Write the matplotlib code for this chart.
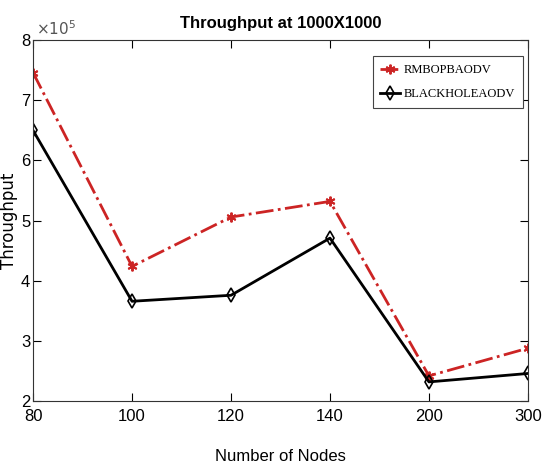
import matplotlib
matplotlib.use('Agg')
import matplotlib.pyplot as plt
import numpy as np

# data
nodes = ['80', '100', '120', '140', '200', '300']
rmbop = [7.46e5, 4.24e5, 5.06e5, 5.32e5, 2.42e5, 2.88e5]
blackhole = [6.50e5, 3.66e5, 3.76e5, 4.71e5, 2.32e5, 2.46e5]

sans = ['Liberation Sans', 'DejaVu Sans']
pos = np.arange(len(nodes))

fig = plt.figure(figsize=(5.42, 4.67), dpi=100)
ax = fig.add_axes([0.061, 0.141, 0.913, 0.773])

ax.plot(pos, np.array(rmbop) / 1e5, color='#cc2424', linestyle='-.', linewidth=2,
        marker=(6, 2, 0), markersize=7, markeredgewidth=1.4, label='RMBOPBAODV')
ax.plot(pos, np.array(blackhole) / 1e5, color='black', linestyle='-', linewidth=2,
        marker='d', markersize=7, markerfacecolor='none', markeredgewidth=1.2,
        label='BLACKHOLEAODV')

ax.set_xlim(0, len(nodes) - 1)
ax.set_ylim(2, 8)
ax.set_xticks(pos)
ax.set_xticklabels(nodes, family=sans, fontsize=12)
ax.set_yticks([2, 3, 4, 5, 6, 7, 8])
ax.set_yticklabels(['2', '3', '4', '5', '6', '7', '8'], family=sans, fontsize=12)
ax.tick_params(direction='in', top=True, right=True, length=6, width=0.8)
ax.tick_params(axis='y', pad=2)
ax.tick_params(axis='x', pad=6)
for s in ax.spines.values():
    s.set_linewidth(0.8)
    s.set_color('#333333')

ax.text(0.005, 1.005, r'$\times10^5$', transform=ax.transAxes, fontsize=11,
        color='#555555', ha='left', va='bottom')
ax.set_title('Throughput at 1000X1000', family=sans, fontsize=12,
             fontweight='bold', pad=9)
ax.set_xlabel('Number of Nodes', family=sans, fontsize=12, labelpad=18)
ax.set_ylabel('Throughput', family='DejaVu Sans', fontsize=12)
ax.yaxis.set_label_coords(-0.031, 0.5)

leg = ax.legend(loc='upper right', bbox_to_anchor=(0.99, 0.955),
                prop={'family': 'Liberation Serif', 'size': 9},
                fancybox=False, edgecolor='#444444', framealpha=1,
                handlelength=1.6, handletextpad=0.3, borderpad=0.6,
                labelspacing=1.0, borderaxespad=0)
leg.get_frame().set_linewidth(0.8)

fig.savefig('out.png', dpi=100)
